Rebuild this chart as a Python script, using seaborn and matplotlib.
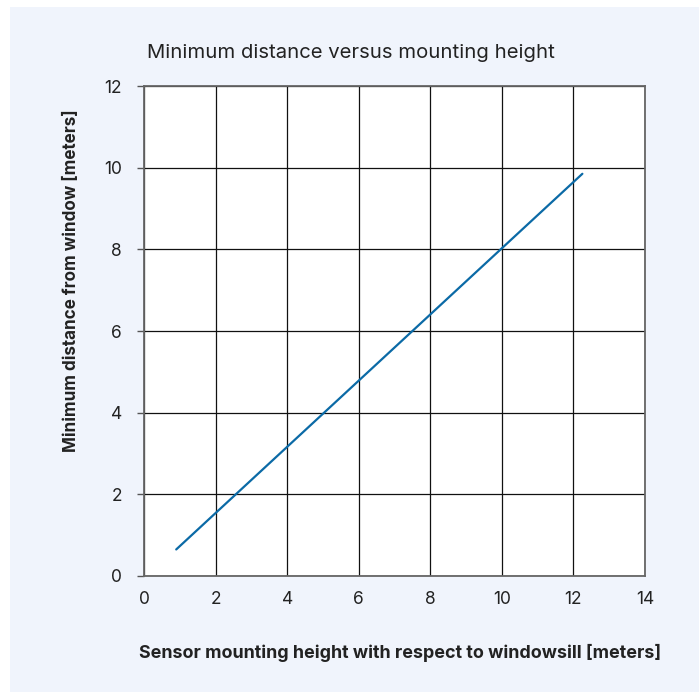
import matplotlib
matplotlib.use("Agg")
import matplotlib.pyplot as plt
import seaborn as sns
import pandas as pd
from matplotlib.patches import Rectangle

height_m = [0.9, 12.25]
distance_m = [0.65, 9.85]
x_ticks = [0, 2, 4, 6, 8, 10, 12, 14]
y_ticks = [0, 2, 4, 6, 8, 10, 12]

sns.set_theme(style="white")
plt.rcParams['font.family'] = ['Inter', 'DejaVu Sans']

df = pd.DataFrame({"h": height_m, "d": distance_m})

W, H = 699, 692
fig = plt.figure(figsize=(W / 100, H / 100), dpi=100)
fig.patch.set_facecolor("white")
fig.add_artist(Rectangle((10 / W, 0), 1 - 10 / W, 1 - 7 / H, transform=fig.transFigure,
                         facecolor="#f0f4fc", edgecolor="none", zorder=-10))

ax = fig.add_axes([144 / W, 1 - 576 / H, (645 - 144) / W, (576 - 86) / H])
ax.set_facecolor("white")
sns.lineplot(data=df, x="h", y="d", ax=ax, color="#0b6aa6", linewidth=1.6)

ax.set_xlim(0, 14)
ax.set_ylim(0, 12)
ax.set_xticks(x_ticks)
ax.set_yticks(y_ticks)
ax.grid(True, color="#111111", linewidth=0.9)
ax.set_axisbelow(True)
for s in ax.spines.values():
    s.set_color("#666666")
    s.set_linewidth(1.3)
ax.tick_params(axis="y", which="both", left=True, length=5, width=1, color="#555555",
               pad=11, labelsize=12.5, labelcolor="#222222")
ax.tick_params(axis="x", which="both", bottom=False, length=0, pad=11,
               labelsize=12.5, labelcolor="#222222")
ax.set_xlabel("")
ax.set_ylabel("")

fig.text(351 / W, 1 - 53 / H, "Minimum distance versus mounting height", ha="center", va="center",
         fontsize=14.6, color="#222222")
fig.text(400 / W, 1 - 653 / H, "Sensor mounting height with respect to windowsill [meters]",
         ha="center", va="center", fontsize=12.9, fontweight="bold", color="#222222")
fig.text(72 / W, 1 - 281 / H, "Minimum distance from window [meters]", ha="center", va="center",
         rotation=90, fontsize=12.3, fontweight="bold", color="#222222")

fig.savefig("out.png", dpi=100)
